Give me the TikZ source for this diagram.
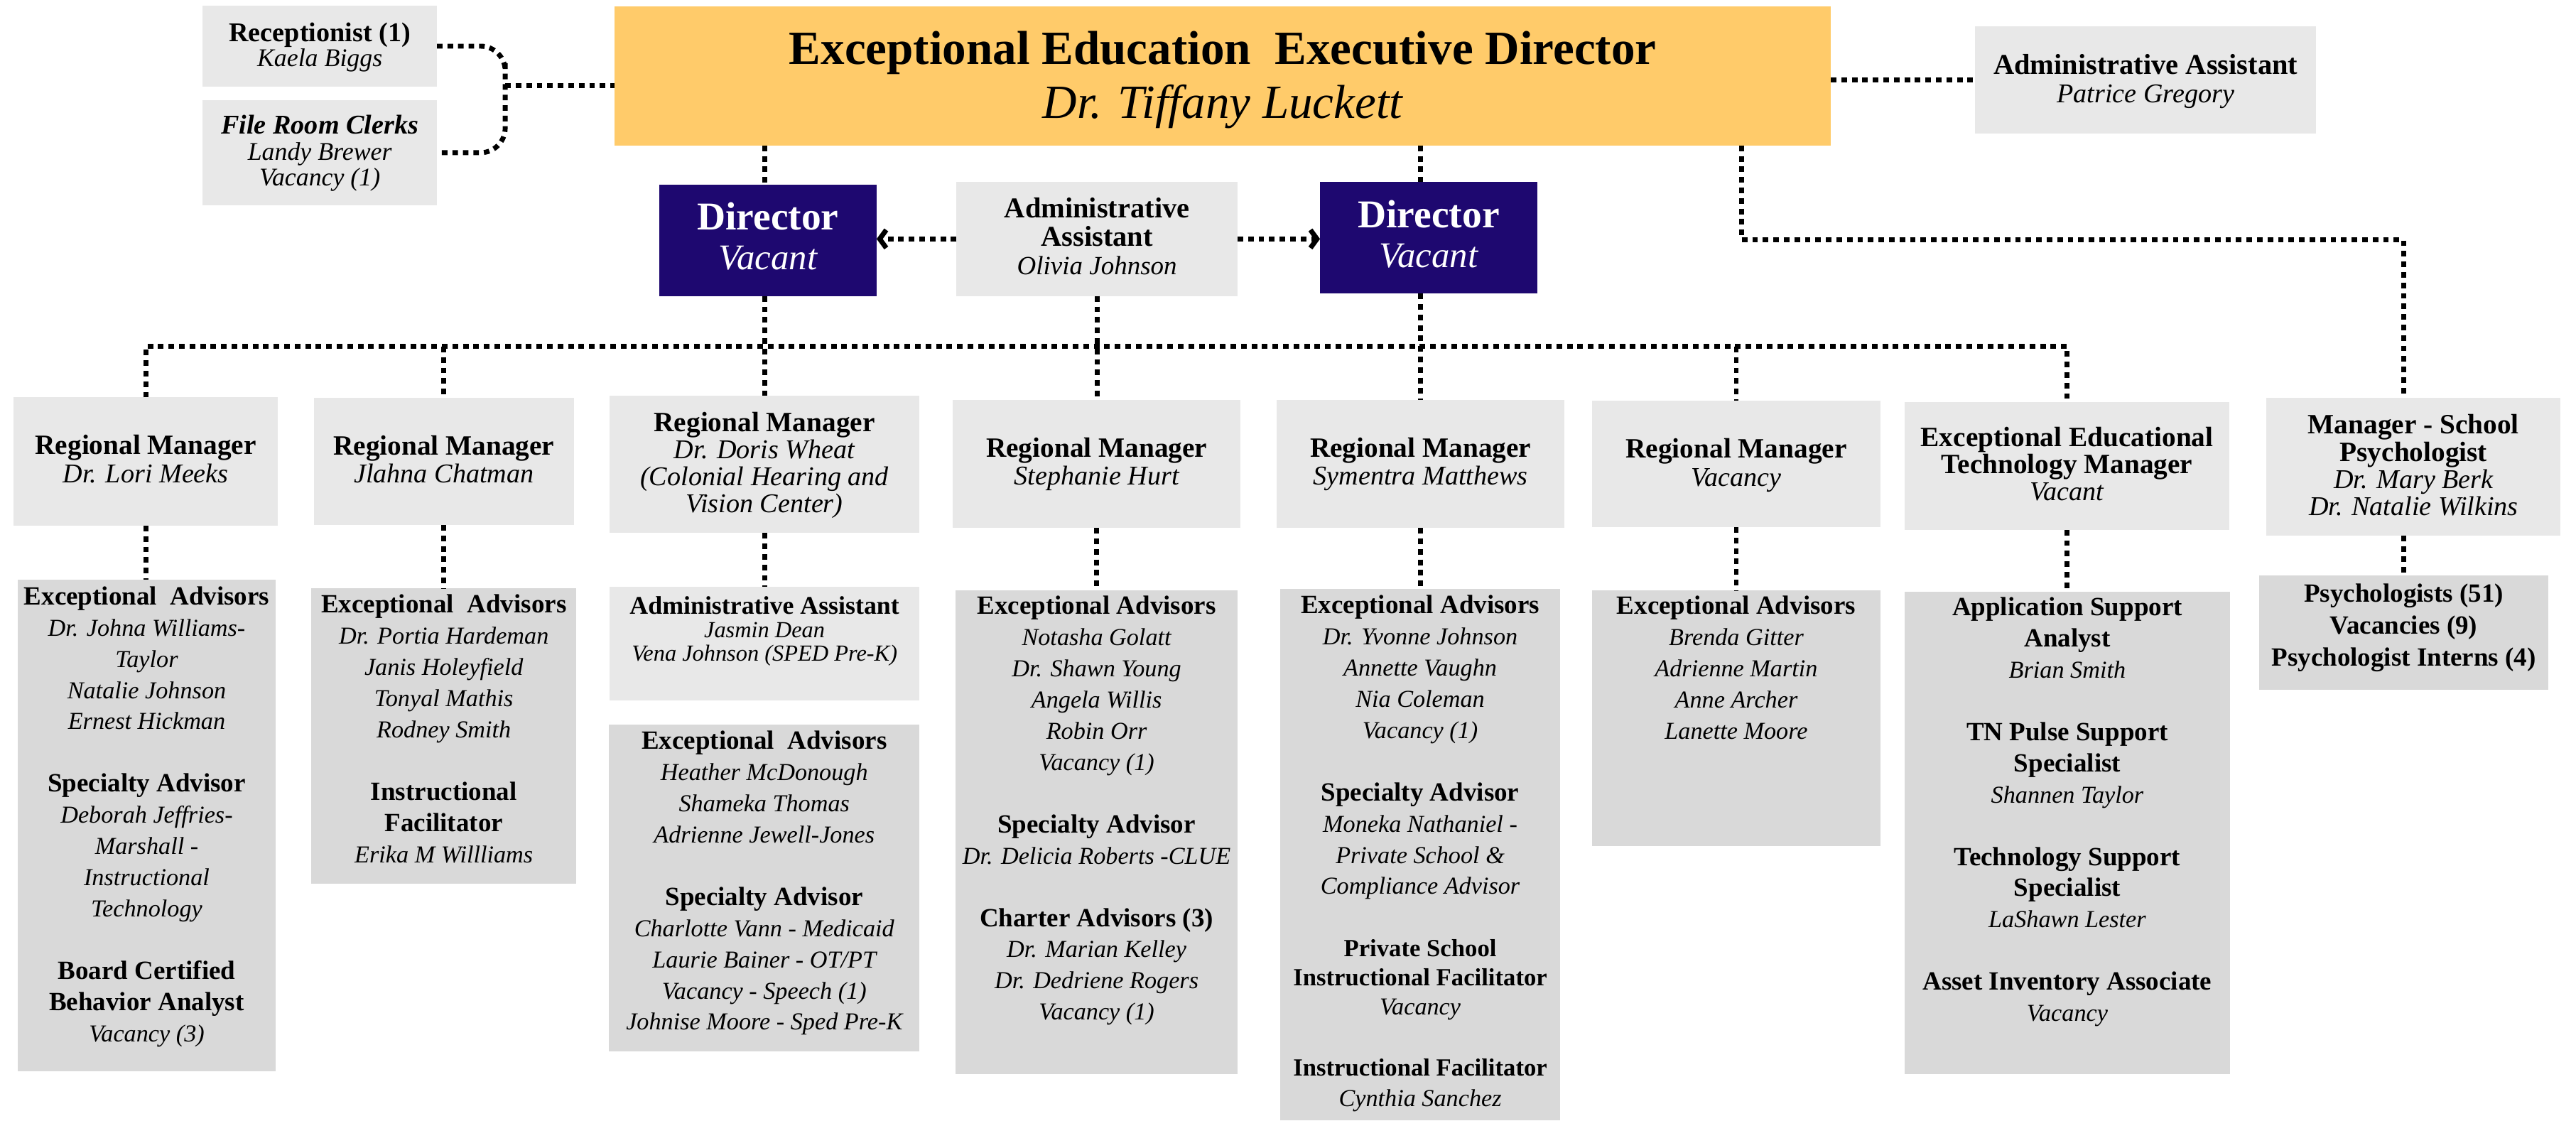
\documentclass[tikz,border=0pt]{standalone}
\usepackage{fontspec}
\setmainfont{Liberation Serif}
\usetikzlibrary{arrows.meta}
\definecolor{cLight}{HTML}{E8E8E8}
\definecolor{cDark}{HTML}{D9D9D9}
\definecolor{cExec}{HTML}{FFCB6A}
\definecolor{cDir}{HTML}{1E0870}
\newcommand{\fr}{\rule{0pt}{13pt}}
\newcommand{\hb}[2]{{\fontsize{#1}{#1}\selectfont\bfseries\upshape #2}}
\newcommand{\sh}[1]{\hb{16}{#1}}
\newcommand{\mh}[1]{\hb{17}{#1}}
\newcommand{\obox}[6]{\node[#1, minimum width={#4-#2}, minimum height={#5-#3}] (#6) at (#2,#3) {};}
\tikzset{
  dl/.style={line width=3pt, dash pattern=on 3.4pt off 3pt},
  boxl/.style={fill=cLight, draw=none, inner sep=0pt, outer sep=0pt, anchor=north west},
  boxd/.style={boxl, fill=cDark},
  tx/.style={anchor=north, inner sep=0pt, outer sep=0pt, align=center},
  subtx/.style={tx, font=\fontsize{14.8}{19}\selectfont\itshape},
  mgrtx/.style={tx, font=\fontsize{16.5}{#1}\selectfont\itshape},
  arr/.style={-{Straight Barb[length=4pt,width=11pt]}}
}
\begin{document}
\begin{tikzpicture}[x=1pt,y=-1pt]
\fill[white] (0,0) rectangle (1568,682);
\useasboundingbox (0,0) rectangle (1568,682);

% ---------- top row ----------
\obox{boxl}{123.3}{3.6}{266}{52.6}{rec}
\node[tx, font=\fontsize{15.5}{15.3}\selectfont\itshape] (rect) at (rec.north |- 0,12.2)
  {\fr\hb{16.5}{Receptionist (1)}\\Kaela Biggs};
\obox{boxl}{123.3}{60.8}{266}{125.1}{file}
\node[tx, font=\fontsize{15.5}{15.9}\selectfont\itshape] (filet) at (file.north |- 0,68.4)
  {\fr\hb{16.5}{\itshape File Room Clerks}\\Landy Brewer\\Vacancy (1)};

\obox{boxl,fill=cExec}{374.1}{4}{1114.4}{88.6}{exec}
\node[tx, font=\fontsize{29}{33}\selectfont\itshape] (exect) at (exec.north |- 0,15)
  {\rule{0pt}{24pt}\hb{29}{Exceptional Education\ \ Executive Director}\\Dr. Tiffany Luckett};

\obox{boxl}{1202.3}{15.9}{1409.7}{81.4}{pat}
\node[tx, font=\fontsize{16.5}{17}\selectfont\itshape] (patt) at (pat.north |- 0,32.4)
  {\fr\hb{17.5}{Administrative Assistant}\\Patrice Gregory};

\obox{boxl,fill=cDir}{401.2}{112.4}{533.6}{180.2}{dirL}
\node[tx, text=white, font=\fontsize{22}{24.5}\selectfont\itshape] (dirLt) at (dirL.north |- 0,121.8)
  {\rule{0pt}{18pt}\hb{24}{Director}\\Vacant};
\obox{boxl,fill=cDir}{803.5}{110.7}{935.8}{178.7}{dirR}
\node[tx, text=white, font=\fontsize{22}{24.5}\selectfont\itshape] (dirRt) at (dirR.north |- 0,120.4)
  {\rule{0pt}{18pt}\hb{24}{Director}\\Vacant};

\obox{boxl}{582.2}{110.7}{753.3}{180.2}{oliv}
\node[tx, font=\fontsize{16}{17.3}\selectfont\itshape] (olivt) at (oliv.north |- 0,119.6)
  {\fr\hb{17.5}{Administrative}\\\hb{17.5}{Assistant}\\Olivia Johnson};

% ---------- managers ----------
\obox{boxl}{8.2}{241.9}{169.2}{320}{rm1}
\node[mgrtx=17.3pt] (rm1t) at (rm1.north |- 0,263.5) {\fr\mh{Regional Manager}\\Dr. Lori Meeks};
\obox{boxl}{191.1}{242}{349.3}{319.6}{rm2}
\node[mgrtx=17pt] (rm2t) at (rm2.north |- 0,264) {\fr\mh{Regional Manager}\\Jlahna Chatman};
\obox{boxl}{371}{240.8}{559.7}{324.5}{rm3}
\node[mgrtx=16.5pt] (rm3t) at (rm3.north |- 0,249.7)
  {\fr\mh{Regional Manager}\\Dr. Doris Wheat\\(Colonial Hearing and\\Vision Center)};
\obox{boxl}{579.9}{243.4}{755.2}{321.4}{rm4}
\node[mgrtx=17pt] (rm4t) at (rm4.north |- 0,265.1) {\fr\mh{Regional Manager}\\Stephanie Hurt};
\obox{boxl}{777.2}{243.4}{952.2}{321.4}{rm5}
\node[mgrtx=17pt] (rm5t) at (rm5.north |- 0,265.1) {\fr\mh{Regional Manager}\\Symentra Matthews};
\obox{boxl}{969.1}{243.9}{1144.6}{320.9}{rm6}
\node[mgrtx=17pt] (rm6t) at (rm6.north |- 0,265.9) {\fr\mh{Regional Manager}\\Vacancy};
\obox{boxl}{1159.4}{244.9}{1357}{322.5}{rm7}
\node[mgrtx=16.4pt] (rm7t) at (rm7.north |- 0,258.7)
  {\fr\mh{Exceptional Educational}\\\mh{Technology Manager}\\Vacant};
\obox{boxl}{1379.6}{242.2}{1558.6}{326}{rm8}
\node[mgrtx=16.5pt] (rm8t) at (rm8.north |- 0,251.2)
  {\fr\mh{Manager - School}\\\mh{Psychologist}\\Dr. Mary Berk\\Dr. Natalie Wilkins};

% ---------- sub boxes ----------
\obox{boxd}{11}{352.7}{167.6}{652.1}{sb1}
\node[subtx] (sb1t) at (sb1.north |- 0,355.1)
  {\fr\sh{Exceptional\ \ Advisors}\\Dr. Johna Williams-\\Taylor\\Natalie Johnson\\Ernest Hickman\\[19pt]
   \sh{Specialty Advisor}\\Deborah Jeffries-\\Marshall -\\Instructional\\Technology\\[19pt]
   \sh{Board Certified}\\\sh{Behavior Analyst}\\Vacancy (3)};
\obox{boxd}{189.4}{358.2}{350.9}{537.8}{sb2}
\node[subtx] (sb2t) at (sb2.north |- 0,360.1)
  {\fr\sh{Exceptional\ \ Advisors}\\Dr. Portia Hardeman\\Janis Holeyfield\\Tonyal Mathis\\Rodney Smith\\[19pt]
   \sh{Instructional}\\\sh{Facilitator}\\Erika M Willliams};
\obox{boxl}{371}{357.2}{559.7}{426.4}{sb3a}
\node[tx, font=\fontsize{14}{14.3}\selectfont\itshape] (sb3at) at (sb3a.north |- 0,360.9)
  {\fr\hb{15.5}{Administrative Assistant}\\Jasmin Dean\\Vena Johnson (SPED Pre-K)};
\obox{boxd}{370.7}{441.2}{559.7}{640.1}{sb3b}
\node[subtx] (sb3bt) at (sb3b.north |- 0,443)
  {\fr\sh{Exceptional\ \ Advisors}\\Heather McDonough\\Shameka Thomas\\Adrienne Jewell-Jones\\[19pt]
   \sh{Specialty Advisor}\\Charlotte Vann - Medicaid\\Laurie Bainer - OT/PT\\Vacancy - Speech (1)\\Johnise Moore - Sped Pre-K};
\obox{boxd}{581.7}{359.2}{753.3}{654}{sb4}
\node[subtx] (sb4t) at (sb4.north |- 0,360.9)
  {\fr\sh{Exceptional Advisors}\\Notasha Golatt\\Dr. Shawn Young\\Angela Willis\\Robin Orr\\Vacancy (1)\\[19pt]
   \sh{Specialty Advisor}\\Dr. Delicia Roberts -CLUE\\[19pt]
   \sh{Charter Advisors (3)}\\Dr. Marian Kelley\\Dr. Dedriene Rogers\\Vacancy (1)};
\obox{boxd}{779.2}{358.4}{949.7}{682}{sb5}
\node[subtx] (sb5t) at (sb5.north |- 0,360.4)
  {\fr\sh{Exceptional Advisors}\\Dr. Yvonne Johnson\\Annette Vaughn\\Nia Coleman\\Vacancy (1)\\[19pt]
   \sh{Specialty Advisor}\\Moneka Nathaniel -\\Private School \&\\Compliance Advisor\\[19pt]
   \hb{15}{Private School}\\[-1.5pt]\hb{15}{Instructional Facilitator}\\[-1.2pt]Vacancy\\[18.4pt]
   \hb{15}{Instructional Facilitator}\\[-0.6pt]Cynthia Sanchez};
\obox{boxd}{969.1}{359.5}{1144.6}{515.2}{sb6}
\node[subtx] (sb6t) at (sb6.north |- 0,360.9)
  {\fr\sh{Exceptional Advisors}\\Brenda Gitter\\Adrienne Martin\\Anne Archer\\Lanette Moore};
\obox{boxd}{1159.4}{360}{1357.3}{654}{sb7}
\node[subtx] (sb7t) at (sb7.north |- 0,361.7)
  {\fr\sh{Application Support}\\\sh{Analyst}\\Brian Smith\\[19pt]
   \sh{TN Pulse Support}\\\sh{Specialist}\\Shannen Taylor\\[19pt]
   \sh{Technology Support}\\\sh{Specialist}\\LaShawn Lester\\[19pt]
   \sh{Asset Inventory Associate}\\Vacancy};
\obox{boxd}{1375}{350.3}{1551.3}{419.8}{sb8}
\node[tx, font=\fontsize{14.8}{19.3}\selectfont\itshape] (sb8t) at (sb8.north |- 0,353.6)
  {\fr\sh{Psychologists (51)}\\\sh{Vacancies (9)}\\\sh{Psychologist Interns (4)}};

% ---------- connectors ----------
\coordinate (bk) at (307.5,52);
\draw[dl, rounded corners=15pt] (rec.east) -| (bk) |- (file.east);
\draw[dl] (bk) -- (bk -| exec.west);
\draw[dl] (exec.east |- pat.west) -- (pat.west);

\draw[dl] (rm3.north |- exec.south) -- (rm3.north |- dirL.north);
\draw[dl] (rm5.north |- exec.south) -- (rm5.north |- dirR.north);
\draw[dl, arr] (oliv.west) -- (dirL.east |- oliv.west);
\draw[dl, arr] (oliv.east) -- (dirR.west |- oliv.east);

\coordinate (bus) at (0,211);
\draw[dl] (rm3.north |- dirL.south) -- (rm3.north);
\draw[dl] (oliv.south) -- (oliv.south |- rm4.north);
\draw[dl] (rm5.north |- dirR.south) -- (rm5.north);
\draw[dl] (rm1.north) |- (rm7.north |- bus) -- (rm7.north);
\draw[dl] (rm2.north |- bus) -- (rm2.north);
\draw[dl] (rm6.north |- bus) -- (rm6.north);

\coordinate (ps1) at (1060,146);
\coordinate (ps2) at (1463,146);
\draw[dl] (ps1 |- exec.south) -- (ps1) -- (ps2) -- (ps2 |- rm8.north);

\draw[dl] (rm1.south) -- (rm1.south |- sb1.north);
\draw[dl] (rm2.south) -- (rm2.south |- sb2.north);
\draw[dl] (rm3.south) -- (rm3.south |- sb3a.north);
\draw[dl] (rm4.south) -- (rm4.south |- sb4.north);
\draw[dl] (rm5.south) -- (rm5.south |- sb5.north);
\draw[dl] (rm6.south) -- (rm6.south |- sb6.north);
\draw[dl] (rm7.south) -- (rm7.south |- sb7.north);
\draw[dl] (sb8.north |- rm8.south) -- (sb8.north);
\end{tikzpicture}
\end{document}
